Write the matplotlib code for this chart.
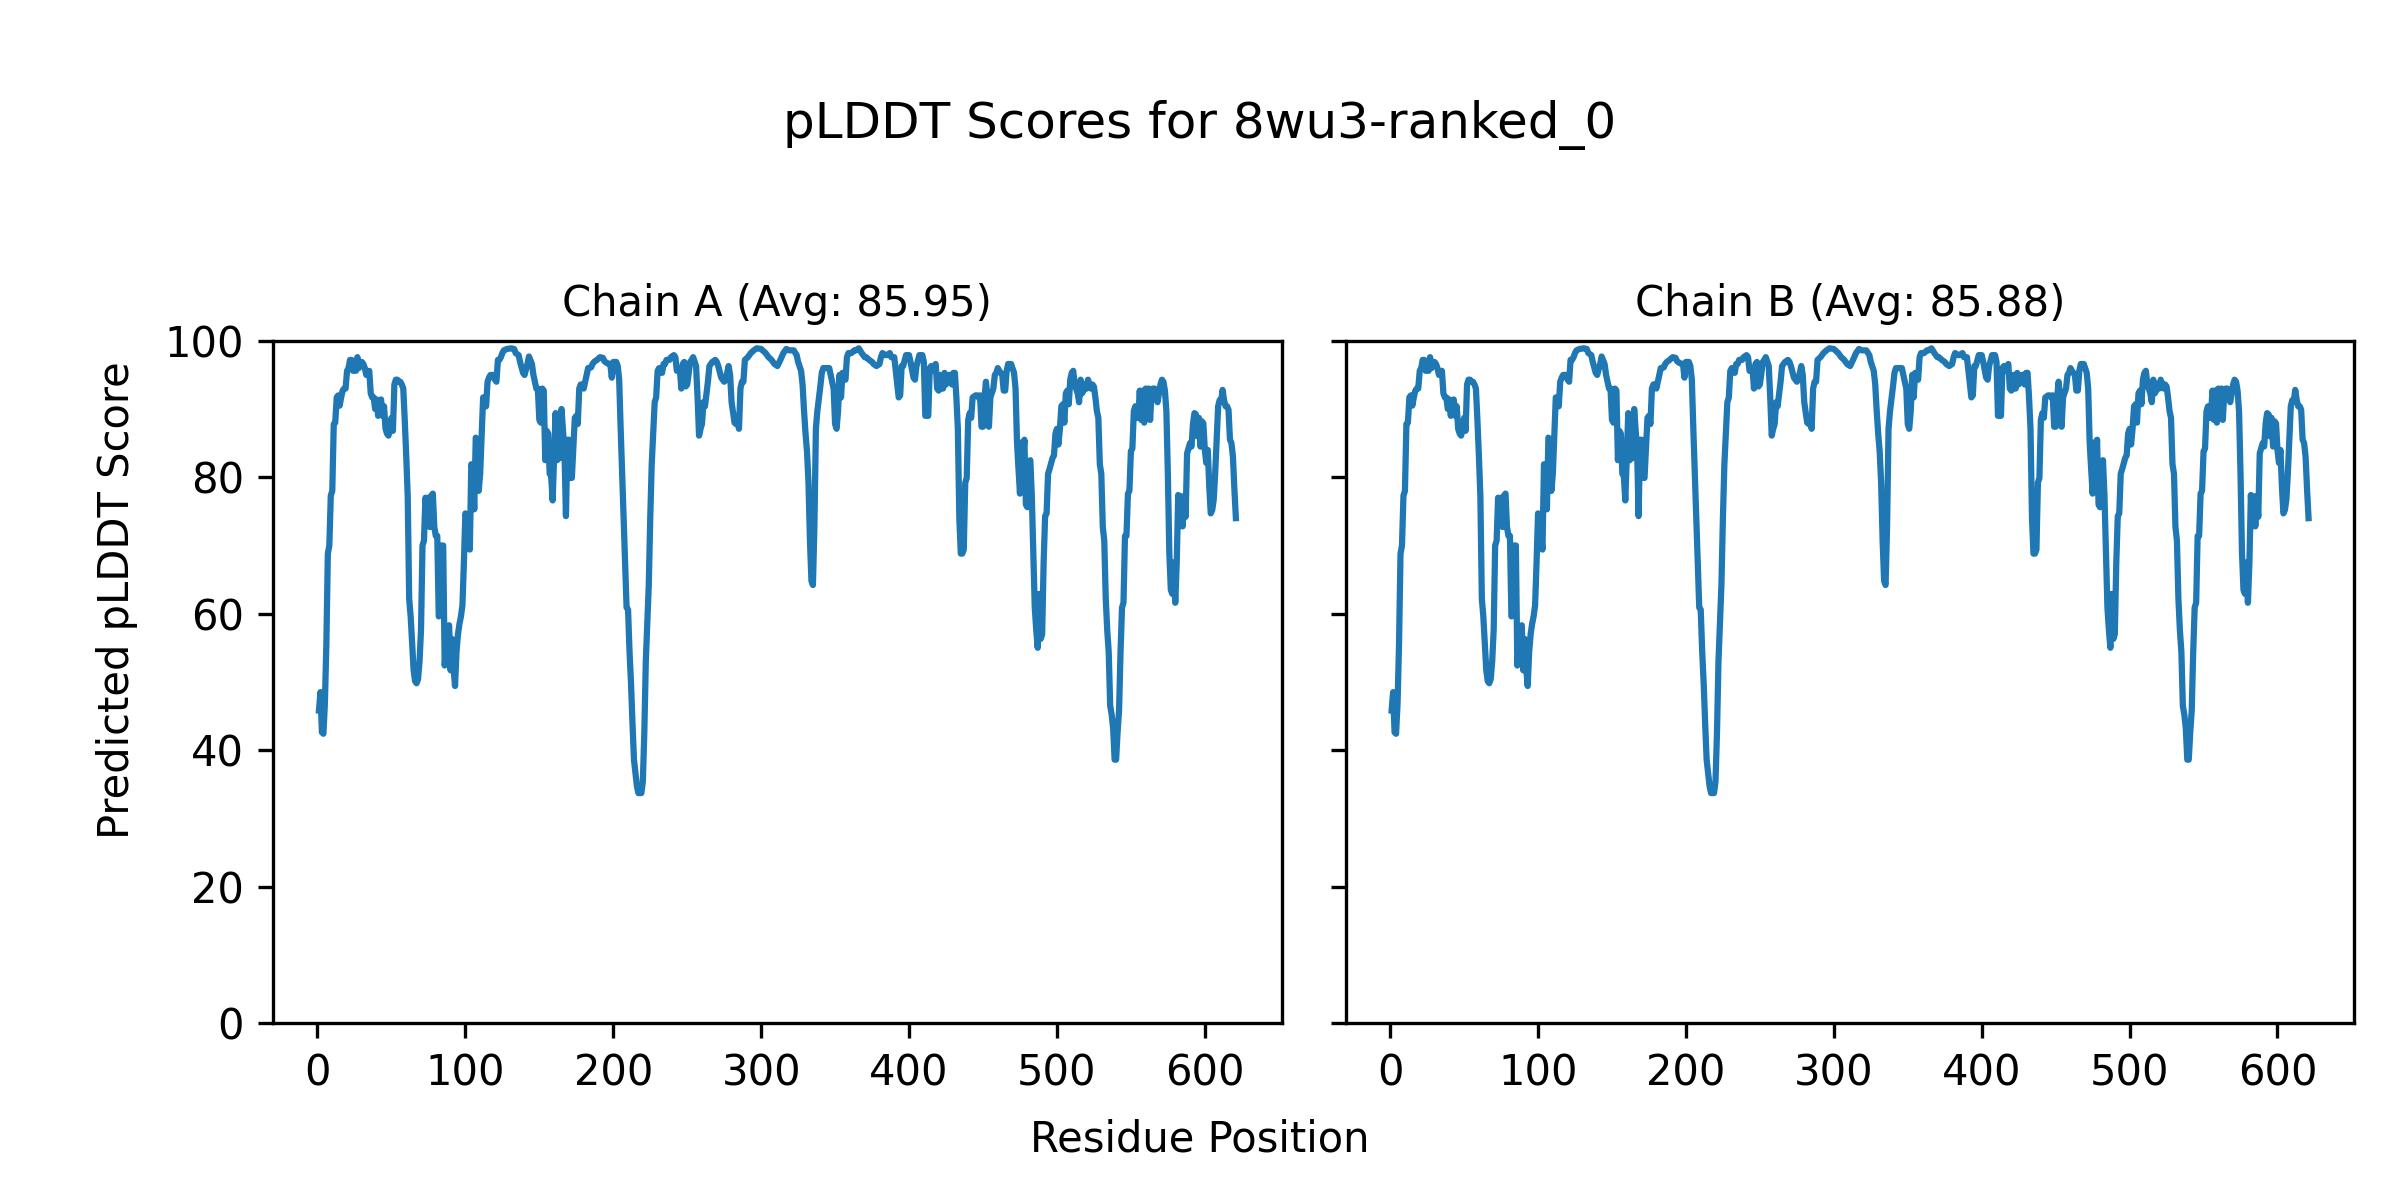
import matplotlib
matplotlib.use("Agg")
import matplotlib.pyplot as plt

title = "pLDDT Scores for 8wu3-ranked_0"
chain_names = ["Chain A", "Chain B"]
chain_avgs = [85.95, 85.88]

residues = [
    1, 2, 3, 4, 5, 6, 7, 8, 9, 10, 11, 12, 13, 14, 15, 16, 17, 18, 19, 20,
    21, 22, 23, 24, 25, 26, 27, 28, 29, 30, 31, 32, 33, 34, 35, 36, 37, 38, 39, 40,
    41, 42, 43, 44, 45, 46, 47, 48, 49, 50, 51, 52, 53, 54, 55, 56, 57, 58, 59, 60,
    61, 62, 63, 64, 65, 66, 67, 68, 69, 70, 71, 72, 73, 74, 75, 76, 77, 78, 79, 80,
    81, 82, 83, 84, 85, 86, 87, 88, 89, 90, 91, 92, 93, 94, 95, 96, 97, 98, 99, 100,
    101, 103, 104, 105, 106, 107, 108, 109, 110, 112, 113, 114, 115, 116, 117, 119, 120, 121, 122, 123,
    124, 125, 126, 128, 131, 133, 134, 136, 137, 139, 140, 142, 143, 145, 146, 148, 149, 150, 151, 152,
    153, 154, 155, 156, 157, 158, 159, 161, 162, 163, 164, 165, 167, 168, 169, 170, 171, 172, 174, 175,
    176, 177, 178, 179, 180, 182, 183, 185, 186, 187, 189, 191, 193, 194, 196, 198, 199, 200, 202, 203,
    204, 205, 207, 208, 209, 210, 211, 212, 213, 214, 216, 217, 219, 220, 221, 222, 224, 225, 226, 227,
    228, 229, 230, 231, 233, 234, 235, 236, 238, 239, 241, 242, 243, 245, 246, 247, 248, 249, 250, 252,
    253, 254, 256, 257, 258, 259, 260, 261, 262, 264, 265, 267, 269, 270, 271, 273, 274, 275, 276, 278,
    279, 280, 282, 283, 284, 285, 286, 287, 288, 289, 291, 293, 295, 297, 300, 303, 305, 307, 309, 311,
    313, 315, 317, 319, 322, 324, 325, 327, 328, 329, 330, 331, 332, 333, 334, 335, 336, 337, 338, 340,
    341, 342, 344, 346, 347, 349, 350, 351, 352, 353, 354, 355, 357, 358, 359, 361, 363, 364, 366, 368,
    370, 371, 373, 375, 376, 378, 380, 381, 382, 384, 385, 387, 388, 390, 391, 392, 393, 394, 395, 396,
    398, 400, 401, 403, 404, 405, 407, 409, 410, 411, 413, 414, 415, 416, 418, 419, 420, 421, 422, 423,
    424, 425, 427, 428, 429, 430, 431, 432, 433, 434, 435, 436, 437, 438, 439, 440, 441, 442, 443, 445,
    446, 447, 448, 449, 450, 451, 452, 453, 454, 455, 457, 458, 459, 460, 461, 463, 464, 465, 466, 467,
    469, 471, 472, 473, 474, 475, 476, 477, 478, 479, 480, 481, 482, 483, 484, 485, 486, 487, 488, 489,
    490, 491, 492, 493, 494, 495, 497, 498, 499, 500, 501, 502, 503, 504, 505, 506, 507, 508, 509, 510,
    511, 512, 514, 515, 516, 517, 518, 519, 520, 521, 523, 524, 525, 526, 527, 528, 529, 530, 531, 532,
    533, 534, 535, 536, 537, 538, 539, 540, 541, 542, 543, 544, 545, 546, 547, 548, 549, 550, 551, 552,
    553, 554, 555, 556, 557, 558, 559, 560, 561, 562, 563, 564, 565, 566, 568, 569, 570, 571, 572, 573,
    574, 575, 576, 577, 578, 579, 580, 581, 582, 583, 584, 585, 586, 587, 588, 590, 591, 592, 593, 594,
    595, 596, 597, 598, 599, 600, 601, 602, 603, 604, 605, 606, 607, 608, 609, 610, 611, 612, 613, 614,
    615, 616, 617, 618, 619, 620, 621,
]

plddt = [
    45.8, 48.5, 42.6, 42.4, 46.8, 55.5, 68.8, 70.0, 77.3, 78.0, 87.8, 88.0, 91.7, 92.0, 90.5, 91.7, 92.7, 93.0, 93.0, 95.6,
    96.0, 97.2, 97.2, 95.6, 96.9, 95.6, 97.6, 96.0, 96.6, 96.9, 96.6, 96.0, 95.0, 95.0, 95.6, 92.3, 91.7, 91.7, 90.0, 91.4,
    89.0, 91.0, 91.4, 89.0, 90.4, 87.1, 86.4, 86.1, 87.1, 88.7, 86.8, 93.6, 94.3, 94.3, 94.0, 94.0, 93.6, 93.0, 88.4, 83.2,
    77.3, 62.2, 59.6, 55.7, 51.7, 50.1, 49.8, 50.4, 53.0, 57.6, 70.0, 70.7, 77.0, 74.7, 77.0, 72.7, 77.3, 77.6, 72.7, 71.4,
    71.4, 59.6, 60.0, 70.0, 70.0, 52.4, 55.0, 57.5, 58.3, 51.7, 56.3, 52.0, 49.4, 54.4, 57.0, 58.5, 59.6, 61.2, 67.5, 74.7,
    74.0, 69.4, 81.9, 81.2, 75.3, 85.8, 85.5, 78.0, 80.5, 91.7, 91.7, 90.4, 94.0, 94.6, 95.0, 95.0, 94.3, 94.0, 97.2, 97.2,
    97.6, 98.2, 98.6, 98.8, 98.9, 98.8, 98.2, 97.9, 96.9, 95.3, 95.0, 96.6, 97.7, 96.6, 95.0, 93.0, 93.0, 88.4, 88.0, 93.0,
    92.7, 82.5, 86.8, 86.4, 80.5, 80.2, 76.6, 89.4, 82.5, 87.1, 82.8, 90.0, 83.8, 74.3, 85.5, 85.5, 79.9, 79.9, 88.7, 89.0,
    87.8, 93.0, 93.6, 93.6, 93.0, 95.0, 96.0, 96.1, 96.6, 96.9, 97.2, 97.6, 97.5, 97.0, 96.7, 96.6, 94.6, 96.9, 96.9, 96.3,
    94.3, 87.1, 74.0, 67.5, 60.9, 60.6, 54.4, 49.8, 43.9, 38.6, 34.7, 33.7, 33.7, 35.4, 42.6, 53.0, 64.2, 74.0, 81.9, 86.4,
    91.0, 91.7, 95.6, 96.0, 95.3, 96.6, 96.6, 97.2, 97.2, 97.6, 97.9, 97.6, 95.6, 96.0, 93.0, 96.6, 96.9, 93.3, 93.6, 96.9,
    97.2, 97.6, 96.3, 91.7, 86.1, 87.1, 87.8, 91.0, 90.4, 94.0, 96.3, 96.9, 97.2, 96.9, 96.3, 94.6, 94.3, 94.0, 94.3, 96.3,
    95.0, 91.0, 88.0, 87.8, 88.7, 87.1, 93.0, 94.0, 94.0, 97.2, 97.6, 98.2, 98.6, 98.9, 98.8, 98.2, 97.6, 97.2, 96.6, 96.3,
    97.2, 98.2, 98.8, 98.6, 98.6, 97.9, 96.9, 95.6, 93.6, 89.7, 86.4, 83.8, 79.2, 70.7, 64.8, 64.2, 72.7, 87.1, 89.7, 93.3,
    95.3, 96.0, 96.0, 96.0, 95.0, 93.0, 87.8, 87.1, 89.7, 95.0, 91.7, 95.3, 94.3, 97.6, 98.2, 98.2, 98.6, 98.6, 98.9, 98.2,
    97.6, 97.6, 97.2, 96.9, 96.6, 96.3, 96.6, 97.6, 98.2, 97.9, 97.9, 98.2, 97.6, 97.6, 95.6, 93.6, 91.7, 92.0, 96.3, 96.3,
    97.9, 97.9, 96.9, 94.6, 94.3, 96.3, 97.9, 97.9, 96.9, 89.0, 89.0, 96.0, 96.3, 95.6, 96.6, 93.0, 92.7, 95.0, 93.0, 93.0,
    95.3, 93.6, 95.0, 95.0, 93.6, 95.3, 95.3, 91.7, 87.1, 74.0, 68.8, 68.8, 69.4, 79.2, 79.9, 88.4, 89.4, 88.7, 91.7, 92.0,
    92.0, 91.7, 92.0, 87.4, 87.4, 91.7, 94.0, 91.7, 87.4, 91.7, 93.0, 95.0, 95.3, 96.0, 95.6, 95.0, 92.7, 92.7, 95.6, 96.6,
    96.6, 95.3, 93.0, 85.1, 81.2, 77.6, 85.1, 82.5, 85.5, 76.0, 75.6, 81.9, 82.5, 77.3, 68.8, 60.9, 57.6, 55.0, 62.9, 56.3,
    57.0, 67.5, 74.3, 74.7, 80.5, 81.2, 82.8, 83.2, 86.4, 87.1, 84.8, 87.1, 90.4, 90.7, 88.0, 92.3, 92.7, 90.7, 94.3, 95.3,
    95.6, 93.6, 92.3, 91.0, 94.3, 92.3, 92.7, 93.6, 93.0, 94.3, 93.0, 93.6, 93.3, 91.7, 89.7, 88.7, 81.9, 80.5, 72.7, 70.7,
    62.2, 57.6, 54.4, 46.5, 45.2, 43.2, 38.6, 38.6, 42.6, 45.8, 54.4, 60.9, 61.6, 71.4, 71.4, 77.6, 78.0, 83.8, 84.2, 89.7,
    90.4, 88.7, 88.7, 92.7, 88.4, 92.7, 88.0, 93.0, 92.3, 93.0, 88.4, 92.3, 93.0, 93.0, 91.0, 92.3, 93.6, 94.3, 94.0, 92.7,
    89.7, 80.5, 68.8, 63.5, 62.9, 67.5, 61.6, 67.5, 77.4, 72.8, 77.2, 72.8, 77.2, 74.2, 83.5, 85.0, 84.5, 87.9, 89.4, 89.2,
    86.0, 88.7, 84.5, 88.2, 87.9, 84.0, 82.1, 84.0, 78.6, 74.7, 75.2, 76.7, 80.6, 85.5, 90.4, 91.3, 91.1, 92.8, 91.3, 90.4,
    90.4, 89.9, 85.5, 85.0, 83.0, 78.2, 74.0,
]

chain_data = [plddt, plddt]

fig, axes = plt.subplots(1, 2, figsize=(8, 4), dpi=300, sharey=True)
fig.subplots_adjust(left=0.1138, right=0.981, bottom=0.1475, top=0.716, wspace=0.0635)

for ax, name, avg, vals in zip(axes, chain_names, chain_avgs, chain_data):
    ax.plot(residues, vals, color="#1f77b4", linewidth=1.5)
    ax.set_title(f"{name} (Avg: {avg:.2f})", fontsize=10)
    ax.set_ylim(0, 100)
    ax.set_xticks([0, 100, 200, 300, 400, 500, 600])

fig.suptitle(title, y=0.917, va="top", fontsize=12)
fig.text(0.5, 0.04, "Residue Position", ha="center", fontsize=10)
fig.text(0.04, 0.5, "Predicted pLDDT Score", va="center", rotation="vertical", fontsize=10)

fig.savefig("out.png", dpi=300)
